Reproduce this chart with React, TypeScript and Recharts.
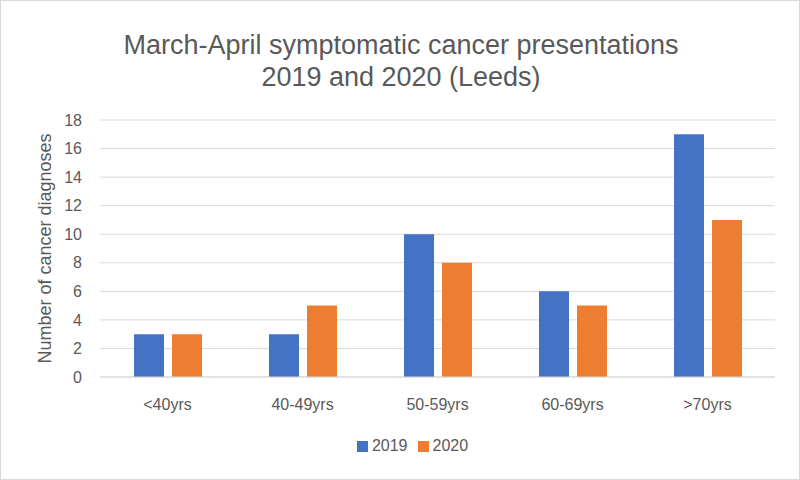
import { BarChart, Bar, XAxis, YAxis, CartesianGrid, Legend } from 'recharts'

const ageGroups = ['<40yrs', '40-49yrs', '50-59yrs', '60-69yrs', '>70yrs']
const diagnoses2019 = [3, 3, 10, 6, 17]
const diagnoses2020 = [3, 5, 8, 5, 11]
const yTicks = [0, 2, 4, 6, 8, 10, 12, 14, 16, 18]

const data = ageGroups.map((group, i) => ({
  group,
  y2019: diagnoses2019[i],
  y2020: diagnoses2020[i],
}))

const font = '"Liberation Sans", Arial, sans-serif'
const textColor = '#595959'

export default function App() {
  return (
    <div
      style={{
        position: 'absolute',
        left: 0,
        top: 0,
        width: 800,
        height: 480,
        boxSizing: 'border-box',
        border: '1px solid #d9d9d9',
        background: '#fff',
        fontFamily: font,
      }}
    >
      <div
        style={{
          position: 'absolute',
          top: 28,
          left: 0,
          width: 800,
          textAlign: 'center',
          color: textColor,
          fontSize: 27,
          lineHeight: '32px',
        }}
      >
        March-April symptomatic cancer presentations
        <br />
        2019 and 2020 (Leeds)
      </div>
      <div style={{ position: 'absolute', left: -1, top: -1 }}>
        <BarChart
          width={800}
          height={480}
          data={data}
          margin={{ top: 120, right: 25, left: 60, bottom: 25 }}
          barSize={30}
          barGap={8}
        >
          <CartesianGrid vertical={false} stroke="#d9d9d9" />
          <XAxis
            dataKey="group"
            axisLine={{ stroke: '#d9d9d9' }}
            tickLine={false}
            tickSize={0}
            tickMargin={22}
            height={60}
            tick={{ fill: textColor, fontSize: 16, fontFamily: font }}
          />
          <YAxis
            domain={[0, 18]}
            ticks={yTicks}
            width={40}
            axisLine={false}
            tickLine={false}
            tickSize={0}
            tickMargin={18}
            tick={{ fill: textColor, fontSize: 16, fontFamily: font }}
            label={{
              value: 'Number  of cancer diagnoses',
              angle: -90,
              position: 'insideLeft',
              offset: -15,
              style: { fill: textColor, fontSize: 18, fontFamily: font, textAnchor: 'middle', whiteSpace: 'pre' },
            }}
          />
          <Legend
            iconType="square"
            iconSize={11}
            wrapperStyle={{ fontSize: 16, color: textColor, fontFamily: font }}
            formatter={(value) => <span style={{ color: textColor }}>{value}</span>}
          />
          <Bar dataKey="y2019" name="2019" fill="#4472C4" isAnimationActive={false} />
          <Bar dataKey="y2020" name="2020" fill="#ED7D31" isAnimationActive={false} />
        </BarChart>
      </div>
    </div>
  )
}
